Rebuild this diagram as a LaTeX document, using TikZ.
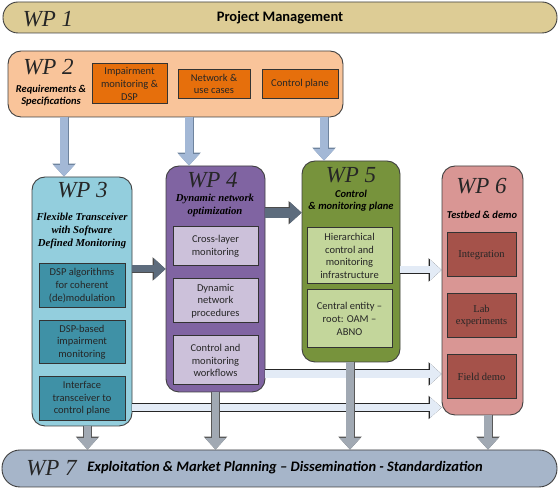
\documentclass[tikz,border=0pt]{standalone}
\usepackage{fontspec}
\setmainfont{Carlito}
\newfontfamily\wpserif{Liberation Serif}
\usetikzlibrary{arrows.meta,positioning}
\definecolor{wponefill}{HTML}{DDCC95}
\definecolor{wptwofill}{HTML}{F9C49A}
\definecolor{wptwotask}{HTML}{E66F0C}
\definecolor{wpthreefill}{HTML}{93CEDD}
\definecolor{wpthreetask}{HTML}{3F91A6}
\definecolor{wpfourfill}{HTML}{8064A2}
\definecolor{wpfourtask}{HTML}{CCC1DA}
\definecolor{wpfivefill}{HTML}{77933C}
\definecolor{wpfivetask}{HTML}{C3D69B}
\definecolor{wpsixfill}{HTML}{D99694}
\definecolor{wpsixtask}{HTML}{A5524A}
\definecolor{wpsevenfill}{HTML}{A6B5C9}
\definecolor{reqblue}{HTML}{A3B8D6}
\definecolor{reqline}{HTML}{6F849E}
\definecolor{darkflow}{HTML}{5D6C7D}
\definecolor{lightflow}{HTML}{E3EBF6}
\definecolor{grayflow}{HTML}{A1A9B3}
\begin{document}
\begin{tikzpicture}[
  x=1pt, y=1pt,
  wp/.style={draw=black!75, line width=0.9pt, rounded corners=13pt, inner sep=0pt},
  task/.style={draw=black!80, line width=1pt, align=center, inner sep=0pt, text=black!85, font=\fontsize{10.5}{12.7}\selectfont},
  wplabel/.style={inner sep=0pt, text=black!85, font=\wpserif\itshape\fontsize{23}{24}\selectfont},
  wpsub/.style={align=center, inner sep=0pt, font=\bfseries\itshape\fontsize{10.5}{12.8}\selectfont},
  wpsubserif/.style={wpsub, font=\wpserif\bfseries\itshape\fontsize{10.7}{12.7}\selectfont},
  block/.style n args={4}{draw=#1, line width=#3, -{Triangle[width=21pt,length=11.5pt,line width=0pt]},
    preaction={draw=#2, line width=#4, -{Triangle[width=23.5pt,length=13pt,line width=0pt]}}}
]
\useasboundingbox (0,0) rectangle (560,489);

% work packages
\node[wp, fill=wponefill, rounded corners=15pt, minimum width=554pt, minimum height=31pt] (wp1) at (280,471.5) {};
\node[wp, fill=wptwofill, minimum width=335pt, minimum height=66pt] (wp2) at (175.5,405) {};
\node[wp, fill=wpthreefill, minimum width=100pt, minimum height=249pt] (wp3) at (82,187.5) {};
\node[wp, fill=wpfourfill, minimum width=99pt, minimum height=226pt] (wp4) at (215.5,210) {};
\node[wp, fill=wpfivefill, minimum width=98pt, minimum height=201pt] (wp5) at (351,227.5) {};
\node[wp, fill=wpsixfill, minimum width=81pt, minimum height=249pt] (wp6) at (482.5,198.5) {};
\node[wp, fill=wpsevenfill, rounded corners=18pt, minimum width=555pt, minimum height=37pt] (wp7) at (279.5,20.5) {};

% titles
\node[wplabel] (wp1name) at (48,470) {WP 1};
\node[inner sep=0pt, font=\bfseries\fontsize{14.5}{15}\selectfont] (wp1text) at (280,471) {Project Management};
\node[wplabel] (wp2name) at (48.5,422) {WP 2};
\node[wpsub, font=\bfseries\itshape\fontsize{10.5}{12.6}\selectfont] (wp2text) at (51,393.5) {Requirements \&\\Specifications};
\node[wplabel] (wp3name) at (82.5,299) {WP 3};
\node[wpsubserif] (wp3text) at (82,258) {Flexible Transceiver\\with Software\\Defined Monitoring};
\node[wplabel] (wp4name) at (212.5,309) {WP 4};
\node[wpsubserif] (wp4text) at (215,283.7) {Dynamic network\\optimization};
\node[wplabel] (wp5name) at (351,313.5) {WP 5};
\node[wpsub] (wp5text) at (351,288.2) {Control\\\& monitoring plane};
\node[wplabel] (wp6name) at (481.5,302.5) {WP 6};
\node[wpsub] (wp6text) at (482,274) {Testbed \& demo};
\node[wplabel] (wp7name) at (51.5,21) {WP 7};
\node[inner sep=0pt, font=\bfseries\itshape\fontsize{14.5}{15}\selectfont] (wp7text) at (285,21) {Exploitation \& Market Planning – Dissemination - Standardization};

% tasks
\node[task, fill=wptwotask, minimum width=75pt, minimum height=40pt] (imp) at (129.5,405) {Impairment\\monitoring \&\\DSP};
\node[task, fill=wptwotask, minimum width=72pt, minimum height=29pt, right=10pt of imp] (netuse) {Network \&\\use cases};
\node[task, fill=wptwotask, minimum width=76pt, minimum height=29pt, right=11pt of netuse] (ctrlplane) {Control plane};

\node[task, fill=wpthreetask, minimum width=86pt, minimum height=43.5pt] (dspalgo) at (82,203.5) {DSP algorithms\\for coherent\\(de)modulation};
\node[task, fill=wpthreetask, minimum width=86pt, minimum height=43.5pt, below=12pt of dspalgo] (dspmon) {DSP-based\\impairment\\monitoring};
\node[task, fill=wpthreetask, minimum width=86pt, minimum height=43.5pt, below=12pt of dspmon] (iface) {Interface\\transceiver to\\control plane};

\node[task, fill=wpfourtask, minimum width=85pt, minimum height=39pt] (crosslayer) at (215.5,242.5) {Cross-layer\\monitoring};
\node[task, fill=wpfourtask, minimum width=85pt, minimum height=44pt, below=12pt of crosslayer] (dynproc) {Dynamic\\network\\procedures};
\node[task, fill=wpfourtask, minimum width=85pt, minimum height=49pt, below=12pt of dynproc] (ctrlflow) {Control and\\monitoring\\workflows};

\node[task, fill=wpfivetask, minimum width=85pt, minimum height=56pt] (hier) at (349.5,233) {Hierarchical\\control and\\monitoring\\infrastructure};
\node[task, fill=wpfivetask, minimum width=85pt, minimum height=58pt, below=5pt of hier] (central) {Central entity –\\root: OAM –\\ABNO};

\node[task, fill=wpsixtask, minimum width=69pt, minimum height=44pt, font=\wpserif\fontsize{10.5}{12.3}\selectfont] (integ) at (481.5,234) {Integration};
\node[task, fill=wpsixtask, minimum width=69pt, minimum height=44pt, font=\wpserif\fontsize{10.5}{12.3}\selectfont, below=16pt of integ] (labexp) {Lab\\experiments};
\node[task, fill=wpsixtask, minimum width=69pt, minimum height=44pt, font=\wpserif\fontsize{10.5}{12.3}\selectfont, below=16pt of labexp] (field) {Field demo};

% connectors
\draw[block={reqblue}{reqline}{7.5pt}{9pt}] ([xshift=-18pt]wp3.north |- wp2.south) -- ([xshift=-18pt]wp3.north);
\draw[block={reqblue}{reqline}{7.5pt}{9pt}] ([xshift=-26.5pt]wp4.north |- wp2.south) -- ([xshift=-26.5pt]wp4.north);
\draw[block={reqblue}{reqline}{7.5pt}{9pt}] ([xshift=-27pt]wp5.north |- wp2.south) -- ([xshift=-27pt]wp5.north);
\draw[block={darkflow}{black!70}{7pt}{8.5pt}] ([yshift=32.5pt]wp3.east) -- ([yshift=32.5pt]wp3.east -| wp4.west);
\draw[block={darkflow}{black!70}{10pt}{11.5pt}] ([yshift=66.3pt]wp4.east) -- ([yshift=66.3pt]wp4.east -| wp5.west);
\draw[block={lightflow}{black!85}{7pt}{8.5pt}] ([yshift=-8.5pt]wp5.east) -- ([yshift=-8.5pt]wp5.east -| wp6.west);
\draw[block={lightflow}{black!85}{7.5pt}{9pt}] ([yshift=-95pt]wp4.east) -- ([yshift=-95pt]wp4.east -| wp6.west);
\draw[block={lightflow}{black!85}{7.5pt}{9pt}] ([yshift=-106pt]wp3.east) -- ([yshift=-106pt]wp3.east -| wp6.west);
\draw[block={grayflow}{black!65}{7.5pt}{9pt}] ([xshift=5.5pt]wp3.south) -- ([xshift=5.5pt]wp3.south |- wp7.north);
\draw[block={grayflow}{black!65}{7.5pt}{9pt}] (wp4.south) -- (wp4.south |- wp7.north);
\draw[block={grayflow}{black!65}{7.5pt}{9pt}] ([xshift=-1pt]wp5.south) -- ([xshift=-1pt]wp5.south |- wp7.north);
\draw[block={grayflow}{black!65}{7.5pt}{9pt}] ([xshift=5.5pt]wp6.south) -- ([xshift=5.5pt]wp6.south |- wp7.north);
\end{tikzpicture}
\end{document}
